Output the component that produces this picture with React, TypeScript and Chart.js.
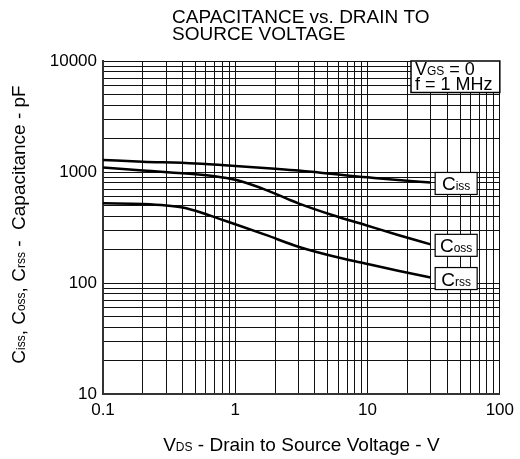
import React, { useEffect, useRef } from "react";
import { Chart, registerables } from "chart.js";

Chart.register(...registerables);

const FONT = "'Liberation Sans', Arial, Helvetica, sans-serif";

// Input capacitance Ciss (pF) vs drain-source voltage (V)
const cissVoltage = [0.1, 0.2, 0.5, 1, 2, 3, 5, 7, 10, 17, 30];
const cissPf = [1280, 1240, 1195, 1135, 1070, 1030, 970, 930, 895, 847, 805];

// Output capacitance Coss
const cossVoltage = [0.1, 0.2, 0.5, 0.7, 1, 1.3, 1.7, 2.5, 3, 5.4, 9.6, 17, 30];
const cossPf = [1100, 1030, 955, 915, 850, 775, 690, 570, 522, 410, 333, 271, 223];

// Reverse transfer capacitance Crss
const crssVoltage = [0.1, 0.2, 0.3, 0.4, 0.55, 0.75, 1, 1.7, 3, 5.4, 9.6, 17, 30];
const crssPf = [522, 515, 500, 478, 432, 380, 338, 271, 212, 175, 150, 129, 112];

// Grid positions (1..9 per decade) and labelled ticks
const xGridValues = [
  0.1, 0.2, 0.3, 0.4, 0.5, 0.6, 0.7, 0.8, 0.9,
  1, 2, 3, 4, 5, 6, 7, 8, 9,
  10, 20, 30, 40, 50, 60, 70, 80, 90, 100,
];
const yGridValues = [
  10, 20, 30, 40, 50, 60, 70, 80, 90,
  100, 200, 300, 400, 500, 600, 700, 800, 900,
  1000, 2000, 3000, 4000, 5000, 6000, 7000, 8000, 9000, 10000,
];
const xTickLabels: Record<number, string> = { 0.1: "0.1", 1: "1", 10: "10", 100: "100" };
const yTickLabels: Record<number, string> = { 10: "10", 100: "100", 1000: "1000", 10000: "10000" };

const titleLines = ["CAPACITANCE vs. DRAIN TO", "SOURCE VOLTAGE"];

type Seg = { t: string; s: number };

function drawRich(ctx: CanvasRenderingContext2D, segs: Seg[], x: number, y: number, align: "left" | "center") {
  const widths = segs.map((seg) => {
    ctx.font = `${seg.s}px ${FONT}`;
    return ctx.measureText(seg.t).width;
  });
  const total = widths.reduce((a, b) => a + b, 0);
  let cx = align === "center" ? x - total / 2 : x;
  ctx.textAlign = "left";
  ctx.textBaseline = "alphabetic";
  segs.forEach((seg, i) => {
    ctx.font = `${seg.s}px ${FONT}`;
    ctx.fillText(seg.t, cx, y);
    cx += widths[i];
  });
  return total;
}

const seriesLabels: { main: string; sub: string }[] = [
  { main: "C", sub: "iss" },
  { main: "C", sub: "oss" },
  { main: "C", sub: "rss" },
];

const annotations = {
  id: "annotations",
  afterDraw(chart: any) {
    const ctx: CanvasRenderingContext2D = chart.ctx;
    const area = chart.chartArea;
    const xs = chart.scales.x;
    const ys = chart.scales.y;
    ctx.save();
    ctx.fillStyle = "#000";

    // Title
    ctx.font = `19px ${FONT}`;
    ctx.textAlign = "left";
    ctx.textBaseline = "alphabetic";
    ctx.fillText(titleLines[0], 172, 23);
    ctx.fillText(titleLines[1], 172, 40);

    // X axis title
    drawRich(
      ctx,
      [
        { t: "V", s: 19 },
        { t: "DS", s: 12 },
        { t: " - Drain to Source Voltage - V", s: 19 },
      ],
      (area.left + area.right) / 2,
      451,
      "center"
    );

    // Y axis title
    ctx.save();
    ctx.translate(25, (area.top + area.bottom) / 2 - 3);
    ctx.rotate(-Math.PI / 2);
    drawRich(
      ctx,
      [
        { t: "C", s: 19 },
        { t: "iss", s: 12 },
        { t: ", C", s: 19 },
        { t: "oss", s: 12 },
        { t: ", C", s: 19 },
        { t: "rss", s: 12 },
        { t: " -  Capacitance - pF", s: 19 },
      ],
      0,
      0,
      "center"
    );
    ctx.restore();

    // Test condition box
    const bx = 411;
    const bw = area.right - bx;
    ctx.fillStyle = "#fff";
    ctx.fillRect(bx, area.top, bw, 31.5);
    ctx.strokeStyle = "#000";
    ctx.lineWidth = 1.5;
    ctx.strokeRect(bx, area.top, bw, 31.5);
    ctx.fillStyle = "#000";
    drawRich(ctx, [{ t: "V", s: 18 }, { t: "GS", s: 12 }, { t: " = 0", s: 18 }], 415, 74.5, "left");
    drawRich(ctx, [{ t: "f = 1 MHz", s: 18 }], 415, 90, "left");

    // Series label boxes at the end of each curve
    chart.data.datasets.forEach((ds: any, i: number) => {
      const last = ds.data[ds.data.length - 1];
      const lx = xs.getPixelForValue(last.x) + 4.5;
      const cy = ys.getPixelForValue(last.y) + 1;
      const w = 42;
      const h = 22;
      ctx.fillStyle = "#fff";
      ctx.fillRect(lx, cy - h / 2, w, h);
      ctx.strokeStyle = "#000";
      ctx.lineWidth = 1.2;
      ctx.strokeRect(lx, cy - h / 2, w, h);
      ctx.fillStyle = "#000";
      const lab = seriesLabels[i];
      drawRich(ctx, [{ t: lab.main, s: 19 }, { t: lab.sub, s: 12 }], lx + w / 2, cy + 7, "center");
    });

    ctx.restore();
  },
};

function toPoints(xs: number[], ys: number[]) {
  return xs.map((x, i) => ({ x, y: ys[i] }));
}

export default function App() {
  const canvasRef = useRef<HTMLCanvasElement | null>(null);

  useEffect(() => {
    if (!canvasRef.current) return;
    const lineStyle = {
      borderColor: "#000",
      borderWidth: 2.5,
      pointRadius: 0,
      fill: false,
      cubicInterpolationMode: "monotone" as const,
    };
    const chart = new Chart(canvasRef.current, {
      type: "line",
      data: {
        datasets: [
          { label: "Ciss", data: toPoints(cissVoltage, cissPf), ...lineStyle },
          { label: "Coss", data: toPoints(cossVoltage, cossPf), ...lineStyle },
          { label: "Crss", data: toPoints(crssVoltage, crssPf), ...lineStyle },
        ],
      },
      options: {
        responsive: false,
        animation: false,
        events: [],
        layout: { padding: { top: 61, right: 18, left: 0, bottom: 0 } },
        plugins: {
          legend: { display: false },
          tooltip: { enabled: false },
          title: { display: false },
        },
        scales: {
          x: {
            type: "logarithmic",
            min: 0.1,
            max: 100,
            afterBuildTicks: (scale: any) => {
              scale.ticks = xGridValues.map((v) => ({ value: v }));
            },
            afterFit: (scale: any) => {
              scale.height = 65;
            },
            grid: { color: "#111", lineWidth: 1, drawTicks: false },
            border: { display: true, color: "#333", width: 2 },
            ticks: {
              autoSkip: false,
              maxRotation: 0,
              padding: 6,
              color: "#000",
              font: { family: FONT, size: 17 },
              callback: (v: any) => xTickLabels[Number(v)] ?? "",
            },
          },
          y: {
            type: "logarithmic",
            min: 10,
            max: 10000,
            afterBuildTicks: (scale: any) => {
              scale.ticks = yGridValues.map((v) => ({ value: v }));
            },
            afterFit: (scale: any) => {
              scale.width = 103;
            },
            grid: { color: "#111", lineWidth: 1, drawTicks: false },
            border: { display: true, color: "#333", width: 2 },
            ticks: {
              autoSkip: false,
              padding: 6,
              color: "#000",
              font: { family: FONT, size: 17 },
              callback: (v: any) => yTickLabels[Number(v)] ?? "",
            },
          },
        },
      },
      plugins: [annotations],
    } as any);
    return () => chart.destroy();
  }, []);

  return (
    <div style={{ position: "fixed", left: 0, top: 0, width: 520, height: 459, background: "#fff" }}>
      <canvas ref={canvasRef} width={520} height={459} style={{ display: "block" }} />
    </div>
  );
}
